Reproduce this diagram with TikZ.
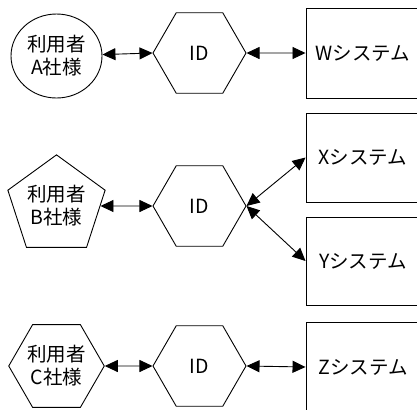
\documentclass[tikz,border=0pt]{standalone}
\usepackage{fontspec}
\setmainfont{Noto Sans CJK JP}
\usetikzlibrary{shapes.geometric,arrows.meta}
\begin{document}
\begin{tikzpicture}[x=1bp,y=-1bp,
  every node/.style={font=\fontsize{19.5bp}{23bp}\selectfont, align=center, text=black},
  hex/.style={regular polygon, regular polygon sides=6, minimum size=93bp, inner sep=0pt, draw, line width=0.9bp},
  pent/.style={regular polygon, regular polygon sides=5, minimum size=95bp, inner sep=0pt, draw, line width=0.9bp},
  user/.style={ellipse, draw, minimum width=91bp, minimum height=84bp, inner sep=0pt, line width=0.9bp},
  sysbox/.style={rectangle, draw, minimum width=114bp, inner sep=0pt, line width=0.9bp},
  link/.style={{Triangle[length=13bp,width=12bp]}-{Triangle[length=13bp,width=12bp]}, line width=0.9bp}
]
\useasboundingbox (0,0) rectangle (417,410);
% row 1
\node[user] (cA) at (56.5,56) {利用者\\A社様};
\node[hex] (hA) at (199.5,53) {ID};
\node[sysbox, minimum height=90bp] (bW) at (363,53) {Wシステム};
% row 2
\node[pent] (pB) at (56.5,206) {利用者\\B社様};
\node[hex] (hB) at (199.5,206) {ID};
\node[sysbox, minimum height=89bp] (bX) at (363,157.5) {Xシステム};
\node[sysbox, minimum height=88bp] (bY) at (363,261) {Yシステム};
% row 3
\node[hex, minimum size=91bp] (hC) at (56.5,366) {利用者\\C社様};
\node[hex] (hD) at (199.5,366) {ID};
\node[sysbox, minimum height=90bp] (bZ) at (363,367) {Zシステム};
% connectors
\draw[link] (cA) -- (hA.west);
\draw[link] (hA.east) -- (bW.west);
\draw[link] (pB) -- (hB.west);
\draw[link] (hB.east) -- (bX.west);
\draw[link] (hB.east) -- (bY.west);
\draw[link] (hC.east) -- (hD.west);
\draw[link] (hD.east) -- (bZ.west);
\end{tikzpicture}
\end{document}
